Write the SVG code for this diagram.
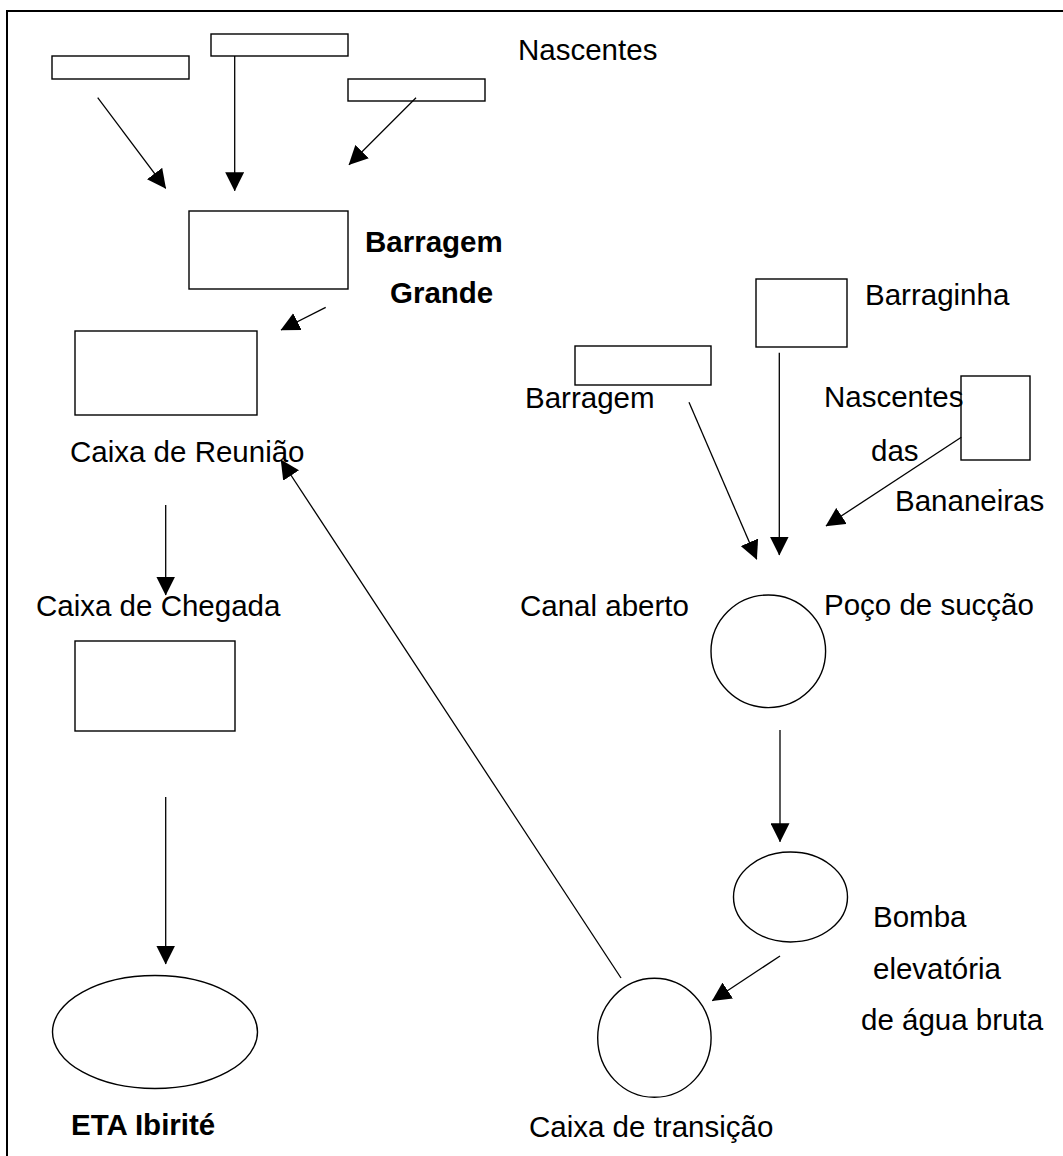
<svg xmlns="http://www.w3.org/2000/svg" width="1063" height="1156" viewBox="0 0 1063 1156">
  <style>
    .box { fill: #fff; stroke: #000; stroke-width: 1.4; }
    .lbl { font-family: "Liberation Sans", Arial, sans-serif; font-size: 29.5px; fill: #000; }
    .b { font-weight: bold; }
    .edge { stroke: #000; stroke-width: 1.3; fill: none; marker-end: url(#head); }
  </style>
  <defs>
    <marker id="head" markerUnits="userSpaceOnUse" viewBox="0 0 19 19" markerWidth="19" markerHeight="19" refX="18.5" refY="9.5" orient="auto">
      <path d="M0,0 L19,9.5 L0,19 Z" fill="#000"/>
    </marker>
  </defs>

  <rect width="1063" height="1156" fill="#fff"/>

  <!-- page frame (top and left edges) -->
  <path d="M7,1160 V11 H1070" fill="none" stroke="#000" stroke-width="2"/>

  <!-- Barragem Grande system -->
  <g id="nascente-1"><rect class="box" x="52" y="56" width="137" height="23"/></g>
  <g id="nascente-2"><rect class="box" x="211" y="34" width="137" height="22"/></g>
  <g id="nascente-3"><rect class="box" x="348" y="79" width="137" height="22"/></g>
  <g id="nascentes-label"><text class="lbl" x="518" y="60">Nascentes</text></g>

  <g id="barragem-grande">
    <rect class="box" x="189" y="211" width="159" height="78"/>
    <text class="lbl b" x="365" y="252">Barragem</text>
    <text class="lbl b" x="390" y="303">Grande</text>
  </g>

  <g id="caixa-reuniao">
    <rect class="box" x="75" y="331" width="182" height="84"/>
    <text class="lbl" x="70" y="462">Caixa de Reunião</text>
  </g>

  <g id="caixa-chegada">
    <text class="lbl" x="36" y="616">Caixa de Chegada</text>
    <rect class="box" x="75" y="641" width="160" height="90"/>
  </g>

  <g id="eta-ibirite">
    <ellipse class="box" cx="155" cy="1032" rx="102.5" ry="56.5"/>
    <text class="lbl b" x="71" y="1135">ETA Ibirité</text>
  </g>

  <!-- Bananeiras system -->
  <g id="barraginha">
    <rect class="box" x="756" y="279" width="91" height="68"/>
    <text class="lbl" x="865" y="305">Barraginha</text>
  </g>

  <g id="barragem">
    <rect class="box" x="575" y="346" width="136" height="39"/>
    <text class="lbl" x="525" y="408">Barragem</text>
  </g>

  <g id="nascentes-bananeiras">
    <text class="lbl" x="824" y="407">Nascentes</text>
    <text class="lbl" x="871" y="461">das</text>
    <text class="lbl" x="895" y="511">Bananeiras</text>
    <rect x="961" y="376" width="69" height="84" fill="none" stroke="#000" stroke-width="1.4"/>
  </g>

  <g id="canal-aberto"><text class="lbl" x="520" y="616">Canal aberto</text></g>

  <g id="poco-succao">
    <ellipse class="box" cx="768.3" cy="651.3" rx="57.3" ry="56.3"/>
    <text class="lbl" x="824" y="615">Poço de sucção</text>
  </g>

  <g id="bomba">
    <ellipse class="box" cx="790.5" cy="897" rx="57" ry="45"/>
    <text class="lbl" x="873" y="927">Bomba</text>
    <text class="lbl" x="873" y="979">elevatória</text>
    <text class="lbl" x="861" y="1030">de água bruta</text>
  </g>

  <g id="caixa-transicao">
    <ellipse class="box" cx="654.4" cy="1037.8" rx="56.7" ry="59.5"/>
    <text class="lbl" x="529" y="1137">Caixa de transição</text>
  </g>

  <!-- flow connectors -->
  <g id="connectors">
    <line class="edge" x1="97.7" y1="97.7" x2="165.7" y2="188.3"/>
    <line class="edge" x1="234.7" y1="56" x2="234.7" y2="190.7"/>
    <line class="edge" x1="416" y1="97.7" x2="349" y2="164.7"/>
    <line class="edge" x1="325.7" y1="307.3" x2="281" y2="330"/>
    <line class="edge" x1="165.7" y1="505" x2="165.7" y2="595"/>
    <line class="edge" x1="165.7" y1="797" x2="165.7" y2="964"/>
    <line class="edge" x1="689" y1="402.3" x2="756.7" y2="559.3"/>
    <line class="edge" x1="779.3" y1="352.7" x2="779.3" y2="555"/>
    <line class="edge" x1="961.3" y1="437.3" x2="826" y2="526"/>
    <line class="edge" x1="780" y1="730" x2="780" y2="841.7"/>
    <line class="edge" x1="780" y1="956" x2="712.3" y2="1000.7"/>
    <line class="edge" x1="621" y1="978" x2="281" y2="460"/>
  </g>
</svg>
